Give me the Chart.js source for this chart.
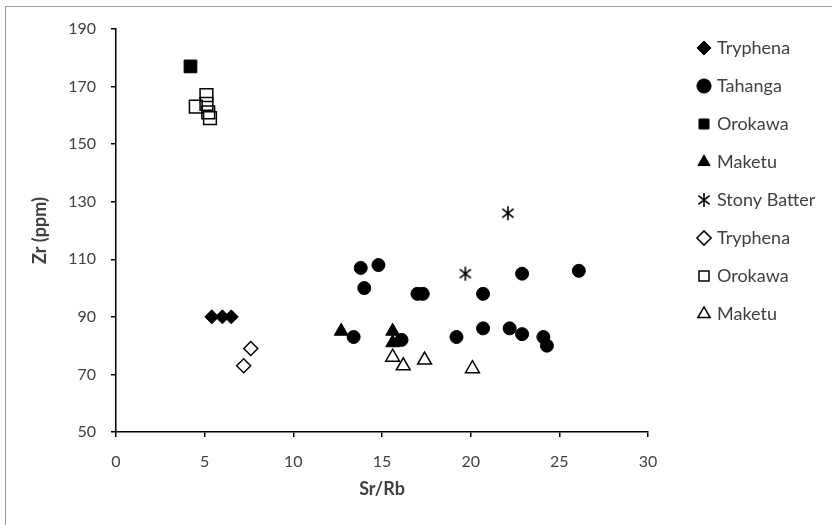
<!DOCTYPE html>
<html>
<head>
<meta charset="utf-8">
<script src="https://cdn.jsdelivr.net/npm/chart.js@4.4.1/dist/chart.umd.min.js"></script>
<style>
  html, body { margin: 0; padding: 0; background: #fff; }
  #wrap { position: relative; width: 832px; height: 525px; overflow: hidden; }
  #frame { position: absolute; left: 5px; top: 6px; width: 900px; height: 600px;
           border-left: 1px solid #9a9a9a; border-top: 1px solid #9a9a9a; }
  #chart { position: absolute; left: 0; top: 0; }
</style>
</head>
<body>
<div id="wrap">
  <div id="frame"></div>
  <canvas id="chart" width="832" height="525"></canvas>
</div>
<script>
// values (x = Sr/Rb, y = Zr ppm)
const tryphenaX = [5.4, 6.0, 6.5];
const tryphenaY = [90, 90, 90];

const tahangaX = [13.4, 13.8, 14.8, 14.0, 17.0, 17.3, 16.1, 19.2, 20.7, 20.7, 22.2, 22.9, 22.9, 24.1, 24.3, 26.1];
const tahangaY = [83, 107, 108, 100, 98, 98, 82, 83, 98, 86, 86, 105, 84, 83, 80, 106];

const orokawaX = [4.2];
const orokawaY = [177];

const maketuX = [12.7, 15.6, 15.6];
const maketuY = [85, 85, 81];

const stonyX = [19.7, 22.1];
const stonyY = [105, 126];

const tryphenaOpenX = [7.6, 7.2];
const tryphenaOpenY = [79, 73];

const orokawaOpenX = [4.5, 5.1, 5.1, 5.2, 5.3];
const orokawaOpenY = [163, 167, 164, 161, 159];

const maketuOpenX = [15.6, 16.2, 17.4, 20.1];
const maketuOpenY = [76, 73, 75, 72];

const xTicks = [0, 5, 10, 15, 20, 25, 30];
const yTicks = [50, 70, 90, 110, 130, 150, 170, 190];

const FONT = 'Lato, "Open Sans", sans-serif';
const TEXT = '#404040';

function pts(xs, ys) {
  return xs.map((x, i) => ({ x: x, y: ys[i] }));
}

// Excel style "star" marker: an X with a vertical stroke
function makeStar(size) {
  const c = document.createElement('canvas');
  c.width = size; c.height = size;
  const g = c.getContext('2d');
  g.strokeStyle = '#000';
  g.lineWidth = 1.6;
  const m = size / 2, r = size / 2 - 1;
  const d = r * 0.8;
  g.beginPath();
  g.moveTo(m, m - r); g.lineTo(m, m + r);
  g.moveTo(m - d, m - d * 0.8); g.lineTo(m + d, m + d * 0.8);
  g.moveTo(m + d, m - d * 0.8); g.lineTo(m - d, m + d * 0.8);
  g.stroke();
  return c;
}
const star = makeStar(16);

function ds(label, xs, ys, style, radius, filled) {
  return {
    label: label,
    data: pts(xs, ys),
    pointStyle: style,
    pointRadius: radius,
    pointHoverRadius: radius,
    backgroundColor: filled ? '#000' : 'rgba(0,0,0,0)',
    borderColor: '#000',
    pointBorderWidth: filled ? 1 : 1.5,
    borderWidth: filled ? 1 : 1.5
  };
}

const datasets = [
  ds('Tryphena', tryphenaX, tryphenaY, 'rectRot', 7, true),
  ds('Tahanga', tahangaX, tahangaY, 'circle', 6.5, true),
  ds('Orokawa', orokawaX, orokawaY, 'rect', 9, true),
  ds('Maketu', maketuX, maketuY, 'triangle', 8, true),
  ds('Stony Batter', stonyX, stonyY, star, 8, false),
  ds('Tryphena', tryphenaOpenX, tryphenaOpenY, 'rectRot', 7, false),
  ds('Orokawa', orokawaOpenX, orokawaOpenY, 'rect', 9, false),
  ds('Maketu', maketuOpenX, maketuOpenY, 'triangle', 8, false)
];

const axisStyle = {
  border: { display: true, color: '#000', width: 1.5 },
  grid: { display: true, drawOnChartArea: false, drawTicks: true, tickLength: 5, color: '#000', lineWidth: 1.5 }
};

new Chart(document.getElementById('chart'), {
  type: 'scatter',
  data: { datasets: datasets },
  options: {
    responsive: false,
    animation: false,
    devicePixelRatio: 1,
    layout: { padding: { top: 19, left: 0, right: 16, bottom: 0 } },
    plugins: {
      tooltip: { enabled: false },
      legend: {
        position: 'right',
        align: 'start',
        labels: {
          usePointStyle: true,
          boxWidth: 8,
          boxHeight: 10,
          padding: 20,
          color: TEXT,
          font: { family: FONT, size: 18 }
        }
      }
    },
    scales: {
      x: {
        type: 'linear',
        position: 'bottom',
        min: 0, max: 30,
        afterBuildTicks: s => { s.ticks = xTicks.map(v => ({ value: v })); },
        afterFit: s => { s.height = 93; },
        ...axisStyle,
        ticks: { color: TEXT, font: { family: FONT, size: 16 }, padding: 15 },
        title: { display: true, text: 'Sr/Rb', color: TEXT, font: { family: FONT, size: 18, weight: 'bold' }, padding: { top: 0, bottom: 25 } }
      },
      y: {
        type: 'linear',
        position: 'left',
        min: 50, max: 190,
        afterBuildTicks: s => { s.ticks = yTicks.map(v => ({ value: v })); },
        afterFit: s => { s.width = 116; },
        ...axisStyle,
        ticks: { color: TEXT, font: { family: FONT, size: 16 }, padding: 15 },
        title: { display: true, text: 'Zr (ppm)', color: TEXT, font: { family: FONT, size: 18, weight: 'bold' }, padding: { top: 29, bottom: 0 } }
      },
      // spacer axes, only used to put the plot area where the reference has it
      padTop: {
        type: 'linear', axis: 'x', position: 'top', display: true,
        grid: { display: false }, border: { display: false }, ticks: { display: false },
        afterFit: s => { s.height = 10; }
      },
      padRight: {
        type: 'linear', axis: 'y', position: 'right', display: true,
        grid: { display: false }, border: { display: false }, ticks: { display: false },
        afterFit: s => { s.width = 32; }
      }
    }
  }
});
</script>
</body>
</html>
